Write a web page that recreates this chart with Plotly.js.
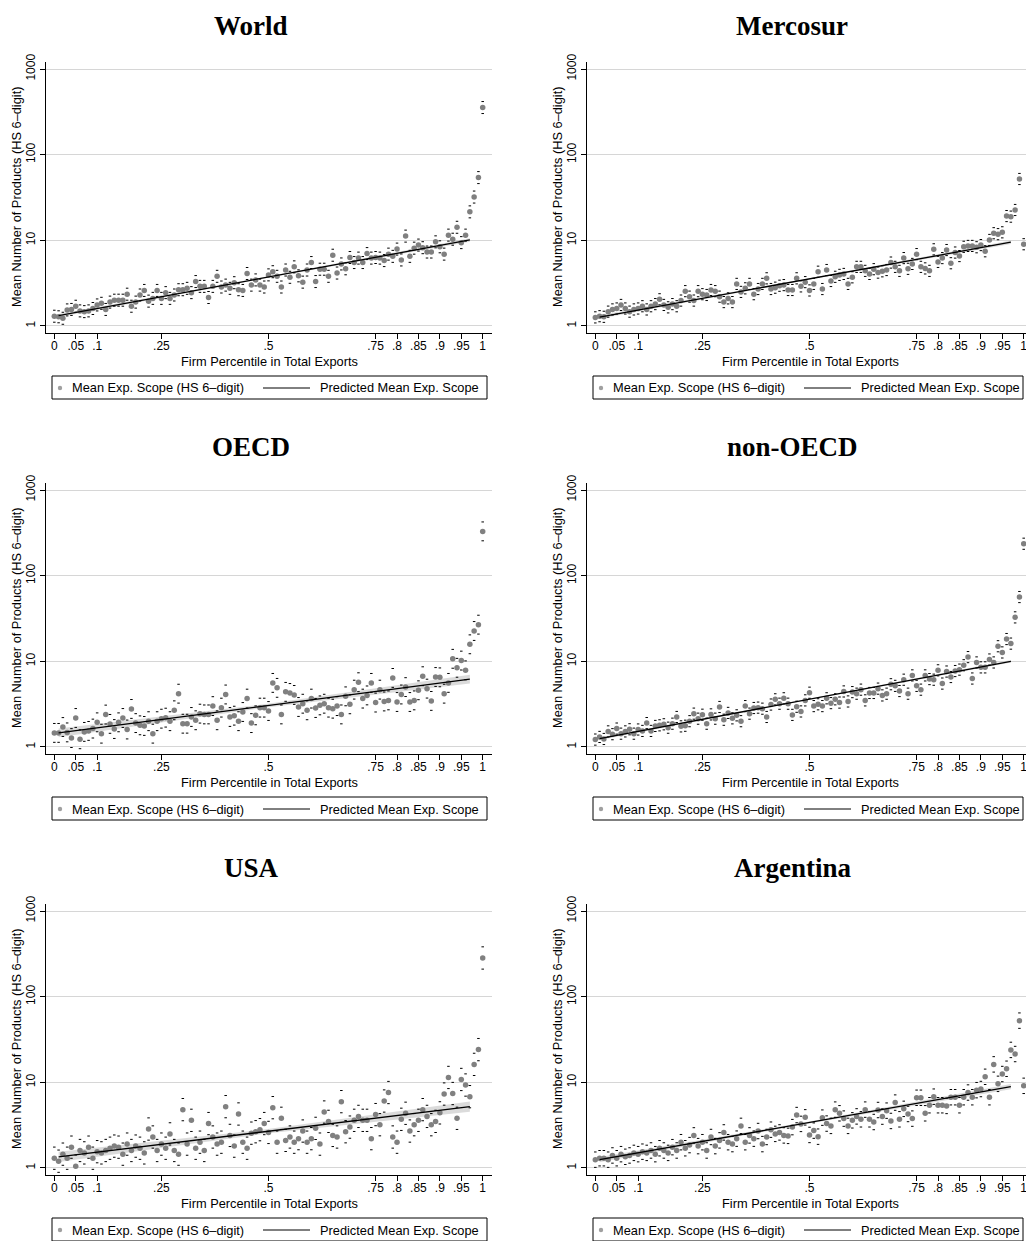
<!DOCTYPE html>
<html><head><meta charset="utf-8">
<script src="https://cdn.plot.ly/plotly-3.0.1.min.js"></script>
<style>html,body{margin:0;padding:0;background:#fff;overflow:hidden}#chart{width:1026px;height:1241px}</style>
</head><body><div id="chart"></div>
<script>
const percentile = [0,.01,.02,.03,.04,.05,.06,.07,.08,.09,.10,.11,.12,.13,.14,.15,.16,.17,.18,.19,.20,.21,.22,.23,.24,.25,.26,.27,.28,.29,.30,.31,.32,.33,.34,.35,.36,.37,.38,.39,.40,.41,.42,.43,.44,.45,.46,.47,.48,.49,.50,.51,.52,.53,.54,.55,.56,.57,.58,.59,.60,.61,.62,.63,.64,.65,.66,.67,.68,.69,.70,.71,.72,.73,.74,.75,.76,.77,.78,.79,.80,.81,.82,.83,.84,.85,.86,.87,.88,.89,.90,.91,.92,.93,.94,.95,.96,.97,.98,.99,1];

const world = [1.3,1.28,1.23,1.54,1.56,1.7,1.5,1.47,1.5,1.6,
1.76,1.84,1.56,1.9,2.0,2.0,2.0,2.35,1.7,1.9,
2.3,2.6,1.95,2.1,2.6,2.1,2.45,2.1,2.3,2.65,
2.65,2.75,2.45,3.3,2.9,2.9,2.15,2.9,3.8,2.85,
3.0,2.75,3.2,2.65,2.6,4.1,3.0,3.45,3.0,2.85,
3.95,4.3,3.8,2.85,4.5,3.7,4.9,3.85,3.25,4.5,
5.5,3.3,4.6,4.6,3.8,6.7,4.15,5.3,4.65,6.3,
5.5,6.2,5.5,7.0,6.2,6.3,6.2,5.8,6.9,6.5,
7.9,5.9,11.2,6.5,8.1,8.8,8.2,7.3,7.3,9.6,
8.4,6.9,11.5,10.3,14.2,9.4,11.5,21.5,32,54,355];

const mercosur = [1.26,1.3,1.28,1.47,1.56,1.6,1.76,1.6,1.47,1.56,
1.6,1.7,1.56,1.7,1.8,2.05,1.76,1.65,1.8,1.7,
1.98,2.55,2.2,1.98,2.55,2.35,2.3,2.63,2.55,2.2,
1.9,2.1,1.9,3.1,2.5,2.75,3.1,2.35,2.7,3.1,
3.6,2.7,2.8,2.95,3.0,2.63,2.63,3.6,2.9,3.25,
2.6,3.1,4.3,2.7,4.5,3.35,3.75,3.95,4.05,3.1,
3.7,4.9,4.9,4.4,4.05,4.6,4.2,4.35,4.5,5.5,
4.9,4.4,6.2,4.65,5.3,6.9,4.9,4.7,4.4,7.85,
5.6,6.2,7.7,5.4,7.2,6.55,8.4,8.6,8.6,8.3,
8.8,7.45,10.1,12.1,11.8,12.4,19.2,18.9,22.6,52,9.0];

const oecd = [1.46,1.46,1.71,1.48,1.27,2.18,1.23,1.5,1.54,1.64,
1.94,1.43,2.39,1.86,1.62,1.94,2.18,1.6,2.78,1.9,
1.79,1.76,2.0,1.43,2.0,2.14,2.2,2.0,2.68,4.19,
1.87,1.87,2.24,2.05,2.45,2.4,2.4,3.0,2.05,2.88,
4.1,2.24,2.32,2.0,2.56,3.67,1.9,2.34,2.88,2.88,
2.63,5.6,4.9,2.4,4.4,4.27,4.05,2.93,3.2,2.68,
3.67,2.85,3.06,3.2,2.88,2.8,3.0,2.4,3.9,3.15,
4.67,5.7,3.67,4.0,5.6,3.3,4.67,3.4,3.5,6.4,
3.35,4.1,5.0,3.35,3.5,4.59,6.7,4.8,3.45,6.56,
6.5,4.19,5.6,10.7,8.4,10.2,7.85,15.8,22.6,26.8,329];

const nonOecd = [1.22,1.31,1.24,1.52,1.41,1.64,1.43,1.52,1.61,1.43,
1.6,1.54,1.9,1.54,1.76,1.79,1.84,1.68,1.87,2.24,
1.74,1.77,2.0,2.45,2.14,2.38,1.87,2.4,2.14,2.93,
2.08,2.5,2.16,2.34,2.0,3.0,2.45,2.85,2.88,2.8,
2.24,3.13,3.6,3.2,3.7,3.2,2.37,2.95,2.6,3.5,
4.3,3.0,3.15,3.0,3.7,3.25,3.6,3.3,4.45,3.4,
4.37,4.19,4.67,3.5,4.27,4.27,4.8,4.0,4.19,5.4,
5.17,4.5,6.1,4.19,6.85,5.17,4.67,6.85,6.2,6.1,
7.85,5.5,7.6,6.56,7.7,8.0,9.0,11.2,6.3,9.7,
8.5,8.5,10.5,9.7,15.0,12.7,18.2,16.1,32.6,56.3,236];

const usa = [1.3,1.2,1.45,1.3,1.75,1.05,1.6,1.5,1.75,1.3,
1.55,1.5,1.6,1.7,1.8,1.75,1.45,1.9,1.6,1.8,
1.7,1.5,2.85,2.3,1.6,1.9,1.7,2.5,1.6,1.45,
4.8,1.9,3.6,1.7,2.0,1.6,3.3,2.3,1.9,2.0,
5.2,2.4,1.8,4.27,2.0,1.7,2.55,2.65,2.8,3.3,
2.6,5.06,2.0,3.8,2.1,2.3,2.0,2.2,2.7,2.0,
2.2,2.9,1.9,4.5,3.5,2.4,2.3,5.95,2.65,3.0,
3.6,4.0,3.6,3.6,2.2,4.2,3.2,6.05,7.6,2.3,
2.0,3.7,4.35,2.7,3.2,3.6,4.8,4.0,3.2,3.5,
4.4,7.3,11.4,7.4,3.8,10.8,9.3,6.8,16.2,24.1,283];

const argentina = [1.25,1.3,1.3,1.25,1.4,1.3,1.45,1.35,1.4,1.5,
1.45,1.55,1.5,1.6,1.45,1.7,1.6,1.5,1.75,1.6,
2.0,1.7,1.85,2.4,1.8,2.0,1.6,2.3,1.8,2.1,
2.6,2.0,1.9,2.2,3.1,2.0,2.4,2.2,2.7,1.9,
2.3,2.8,2.5,2.6,2.4,2.37,3.0,4.15,3.27,3.9,
2.43,2.73,2.32,3.87,3.3,3.1,4.8,4.35,3.77,3.1,
3.6,4.0,3.7,4.8,3.7,3.44,4.75,3.98,4.67,3.54,
5.8,3.7,4.9,4.27,3.77,6.6,6.6,4.35,5.4,6.8,
5.4,5.4,5.3,6.7,6.7,5.4,6.7,7.6,6.7,8.1,
8.35,11.6,6.7,16.2,9.6,12.5,14.4,23.9,21.4,52.5,9.1];

const panelNames = ['World','Mercosur','OECD','non-OECD','USA','Argentina'];
const panelData = [world, mercosur, oecd, nonOecd, usa, argentina];
const xTickVals = [0,.05,.1,.25,.5,.75,.8,.85,.9,.95,1];
const xTickText = ['0','.05','.1','.25','.5','.75','.8','.85','.9','.95','1'];
const yTickVals = [1,10,100,1000];
const yTickText = ['1','10','100','1000'];
// predicted (fitted) line: value at start and end of fit range
const fitX = [0.01, 0.97];
const fitStart = [1.32, 1.27, 1.46, 1.25, 1.35, 1.25];
const fitEnd   = [10.1, 9.5, 6.2, 10.0, 5.2, 8.9];
// CI band half-width (log10) at ends / middle of the fitted line
const bandEndW = [0.02, 0.02, 0.05, 0.015, 0.06, 0.03];
const bandMidW = [0.008, 0.008, 0.02, 0.006, 0.025, 0.012];
// typical half-width (log10) of each point's confidence interval
const ciSpread = [0.07, 0.065, 0.11, 0.065, 0.13, 0.09];

const xTitle = 'Firm Percentile in Total Exports';
const yTitle = 'Mean Number of Products (HS 6\u2013digit)';
const leg1 = 'Mean Exp. Scope (HS 6\u2013digit)';
const leg2 = 'Predicted Mean Exp. Scope';

const W = 1026, H = 1241;
const PX = x => x / W, PY = y => 1 - y / H;
const DOT = '#808080';
const SANS = 'Liberation Sans, Arial, Helvetica, sans-serif';
const SERIF = 'Liberation Serif, Times New Roman, serif';
const TXT = 12.8;

const traces = [], shapes = [], annotations = [];
const layout = {
  width: W, height: H, margin: {l:0, r:0, t:0, b:0},
  paper_bgcolor: '#fff', plot_bgcolor: '#fff', showlegend: false,
  font: {family: SANS, size: 12, color: '#000'}
};

panelData.forEach((vals, i) => {
  const col = i % 2, row = Math.floor(i / 2);
  const dx = col * 541, dy = row * 421;
  const left = 46 + dx, right = col ? W : 492;
  const top = 62 + dy, bottom = 333 + dy;
  const xr0 = -0.0194, xr1 = xr0 + (right - left) / 428.4;
  const xa = i ? 'x' + (i + 1) : 'x', ya = i ? 'y' + (i + 1) : 'y';
  const xk = i ? 'xaxis' + (i + 1) : 'xaxis', yk = i ? 'yaxis' + (i + 1) : 'yaxis';

  layout[xk] = {
    domain: [PX(left), PX(right)], anchor: ya, range: [xr0, xr1],
    showline: true, linecolor: '#000', linewidth: 1, mirror: false,
    ticks: 'outside', ticklen: 5, tickwidth: 1, tickcolor: '#000',
    ticklabelstandoff: -3, ticklabeloverflow: 'allow',
    tickvals: xTickVals, ticktext: xTickText, showgrid: false, zeroline: false,
    tickfont: {family: SANS, size: 12, color: '#000'}, fixedrange: true
  };
  layout[yk] = {
    domain: [PY(bottom), PY(top)], anchor: xa, type: 'log', range: [-0.082, 3.082],
    showline: true, linecolor: '#000', linewidth: 1,
    ticks: 'outside', ticklen: 5, tickwidth: 1, tickcolor: '#000',
    tickvals: yTickVals, ticktext: yTickText, tickangle: -90,
    showgrid: true, gridcolor: '#d6d6d6', gridwidth: 1, zeroline: false,
    tickfont: {family: SANS, size: 12, color: '#000'}, fixedrange: true
  };

  // fitted line and band (log-linear)
  const l0 = Math.log10(fitStart[i]), l1 = Math.log10(fitEnd[i]);
  const bx = [fitX[0], (fitX[0] + fitX[1]) / 2, fitX[1]];
  const bl = [l0, (l0 + l1) / 2, l1];
  const bw = [bandEndW[i], bandMidW[i], bandEndW[i]];
  const up = bl.map((v, k) => Math.pow(10, v + bw[k]));
  const lo = bl.map((v, k) => Math.pow(10, v - bw[k]));
  traces.push({
    x: bx.concat(bx.slice().reverse()), y: up.concat(lo.slice().reverse()),
    xaxis: xa, yaxis: ya, type: 'scatter', mode: 'lines', fill: 'toself',
    fillcolor: 'rgba(190,190,190,0.55)', line: {width: 0}, hoverinfo: 'skip'
  });
  traces.push({
    x: percentile, y: vals, xaxis: xa, yaxis: ya, type: 'scatter', mode: 'markers',
    marker: {color: DOT, size: 5.5, line: {width: 0}}
  });
  const f = Math.pow(10, ciSpread[i]);
  ['hi', 'lo'].forEach(s => {
    traces.push({
      x: percentile, y: vals.map(v => s === 'hi' ? v * f : v / f),
      xaxis: xa, yaxis: ya, type: 'scatter', mode: 'markers', hoverinfo: 'skip',
      marker: {symbol: 'line-ew', size: 1.8, color: '#000', line: {width: 1, color: '#000'}}
    });
  });
  traces.push({
    x: fitX, y: [fitStart[i], fitEnd[i]], xaxis: xa, yaxis: ya, type: 'scatter',
    mode: 'lines', line: {color: '#000', width: 1.3}
  });

  // panel title
  annotations.push({text: '<b>' + panelNames[i] + '</b>', xref: 'paper', yref: 'paper',
    x: PX(251 + dx), y: PY(26 + dy), xanchor: 'center', yanchor: 'middle', showarrow: false,
    font: {family: SERIF, size: 27, color: '#000'}});
  // axis titles
  annotations.push({text: xTitle, xref: 'paper', yref: 'paper',
    x: PX(269 + dx), y: PY(361 + dy), xanchor: 'center', yanchor: 'middle', showarrow: false,
    font: {family: SANS, size: TXT, color: '#000'}});
  annotations.push({text: yTitle, xref: 'paper', yref: 'paper', textangle: -90,
    x: PX(16.5 + dx), y: PY(197.5 + dy), xanchor: 'center', yanchor: 'middle', showarrow: false,
    font: {family: SANS, size: TXT, color: '#000'}});

  // legend
  const lx0 = 52 + dx, lx1 = col ? 1023 : 487, ly0 = 376 + dy, ly1 = 399 + dy, lyc = 388 + dy;
  shapes.push({type: 'rect', xref: 'paper', yref: 'paper', x0: PX(lx0), x1: PX(lx1), y0: PY(ly1), y1: PY(ly0),
    line: {color: '#000', width: 1}, fillcolor: 'rgba(0,0,0,0)'});
  shapes.push({type: 'circle', xref: 'paper', yref: 'paper', x0: PX(60 + dx - 2.2), x1: PX(60 + dx + 2.2),
    y0: PY(lyc + 2.2), y1: PY(lyc - 2.2), line: {width: 0}, fillcolor: '#a0a0a0'});
  shapes.push({type: 'line', xref: 'paper', yref: 'paper', x0: PX(263 + dx), x1: PX(310 + dx),
    y0: PY(lyc), y1: PY(lyc), line: {color: '#000', width: 1}});
  annotations.push({text: leg1, xref: 'paper', yref: 'paper', x: PX(70 + dx), y: PY(lyc),
    xanchor: 'left', yanchor: 'middle', showarrow: false, font: {family: SANS, size: TXT, color: '#000'}});
  annotations.push({text: leg2, xref: 'paper', yref: 'paper', x: PX(318 + dx), y: PY(lyc),
    xanchor: 'left', yanchor: 'middle', showarrow: false, font: {family: SANS, size: TXT, color: '#000'}});
});

layout.shapes = shapes;
layout.annotations = annotations;
Plotly.newPlot('chart', traces, layout, {staticPlot: true, displayModeBar: false});
</script></body></html>
